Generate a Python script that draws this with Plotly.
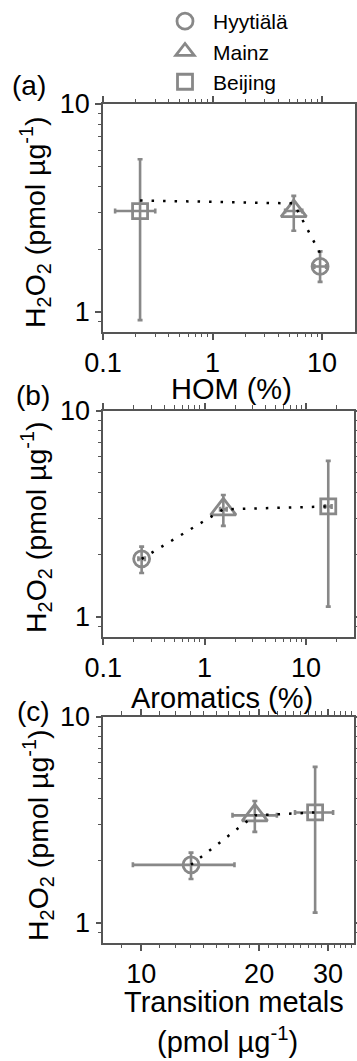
import math
import plotly.graph_objects as go

# ---------------- data ----------------
sites = ["Hyytiälä", "Mainz", "Beijing"]
symbols = ["circle-open", "triangle-up-open", "square-open"]
marker_sizes = [16, 22, 15]

# H2O2 content (pmol ug-1), shared by panels (b), (c) and the dotted lines
h2o2 = [1.91, 3.32, 3.43]
h2o2_lo = [1.63, 2.76, 1.12]
h2o2_hi = [2.19, 3.90, 5.71]

# panel (a) markers as drawn
h2o2_a = [1.65, 3.05, 3.05]
h2o2_a_lo = [1.39, 2.45, 0.91]
h2o2_a_hi = [1.95, 3.61, 5.42]

# (a) HOM (%)
hom = [9.6, 5.52, 0.218]
hom_lo = [8.5, 4.6, 0.129]
hom_hi = [10.9, 6.6, 0.30]

# (b) Aromatics (%)
aro = [0.239, 1.53, 16.6]
aro_lo = [0.222, 1.42, 15.4]
aro_hi = [0.257, 1.65, 17.9]

# (c) Transition metals (pmol ug-1)
tm = [13.4, 19.5, 27.8]
tm_lo = [9.52, 17.1, 24.7]
tm_hi = [17.3, 22.2, 30.9]

x_major_ab = [0.1, 1, 10]
x_major_ab_text = ["0.1", "1", "10"]
x_minor_a = [0.2, 0.3, 0.4, 0.5, 0.6, 0.7, 0.8, 0.9, 2, 3, 4, 5, 6, 7, 8, 9]
x_minor_b = x_minor_a + [20]
x_major_c = [10, 20, 30]
x_major_c_text = ["10", "20", "30"]
x_minor_c = [8.889, 11.11, 12.22, 13.33, 14.44, 15.56, 16.67, 17.78, 18.89,
             21.11, 22.22, 23.33, 24.44, 25.56, 26.67, 27.78, 28.89,
             31.11, 32.22, 33.33, 34.44]
y_major = [1, 10]
y_major_text = ["1", "10"]
y_minor = [0.9, 2, 3, 4, 5, 6, 7, 8, 9]

# ---------------- style ----------------
W, H = 357, 1061
FONT = "Liberation Sans, Arial, sans-serif"
GRAY = "#888888"
AXC = "#555555"


def fx(p):
    return p / W


def fy(p):
    return 1 - p / H


fig = go.Figure()

panels = [
    ("x", "y", hom, hom_lo, hom_hi, h2o2_a, h2o2_a_lo, h2o2_a_hi, hom, h2o2),
    ("x2", "y2", aro, aro_lo, aro_hi, h2o2, h2o2_lo, h2o2_hi, aro, h2o2),
    ("x3", "y3", tm, tm_lo, tm_hi, h2o2, h2o2_lo, h2o2_hi, tm, h2o2),
]

for pi, (xa, ya, xs, xlo, xhi, ys, ylo, yhi, lx, ly) in enumerate(panels):
    for i, s in enumerate(sites):
        fig.add_trace(go.Scatter(
            x=[xs[i]], y=[ys[i]], xaxis=xa, yaxis=ya,
            mode="markers", name=s, showlegend=(pi == 0),
            marker=dict(symbol=symbols[i], size=marker_sizes[i], color=GRAY,
                        line=dict(color=GRAY, width=2.8)),
            error_x=dict(type="data", symmetric=False,
                         array=[xhi[i] - xs[i]], arrayminus=[xs[i] - xlo[i]],
                         color=GRAY, thickness=2.6, width=2.5),
            error_y=dict(type="data", symmetric=False,
                         array=[yhi[i] - ys[i]], arrayminus=[ys[i] - ylo[i]],
                         color=GRAY, thickness=2.6, width=2.5),
        ))
    order = sorted(range(3), key=lambda k: lx[k])
    fig.add_trace(go.Scatter(
        x=[lx[k] for k in order], y=[ly[k] for k in order], xaxis=xa, yaxis=ya,
        mode="lines", showlegend=False, hoverinfo="skip",
        line=dict(color="black", width=2.5, dash="2.5px,9px"),
    ))


def axis_common(**kw):
    d = dict(type="log", showline=True, linecolor=AXC, linewidth=1.6,
             mirror="allticks", ticks="outside", ticklen=6, tickwidth=1.6,
             tickcolor=AXC, showgrid=False, zeroline=False, tickmode="array",
             automargin=False,
             tickfont=dict(family=FONT, size=27, color="black"))
    d.update(kw)
    return d


def minor(vals):
    return dict(ticks="outside", ticklen=3.5, tickwidth=1.4, tickcolor=AXC,
                tickmode="array", tickvals=vals, showgrid=False)


yr = [math.log10(0.8), 1]
layout = dict(
    width=W, height=H, margin=dict(l=0, r=0, t=0, b=0, autoexpand=False),
    paper_bgcolor="white", plot_bgcolor="white",
    font=dict(family=FONT, color="black"),
    showlegend=True,
    legend=dict(x=fx(157), y=fy(1), xanchor="left", yanchor="top",
                font=dict(family=FONT, size=21, color="black"),
                bgcolor="rgba(0,0,0,0)", tracegroupgap=0, itemsizing="trace",
                itemwidth=46),
    xaxis=axis_common(domain=[fx(103), fx(355)], anchor="y",
                      range=[-1, math.log10(20)], tickvals=x_major_ab,
                      ticktext=x_major_ab_text, minor=minor(x_minor_a)),
    yaxis=axis_common(domain=[fy(331.7), fy(104)], anchor="x", range=yr,
                      tickvals=y_major, ticktext=y_major_text, minor=minor(y_minor)),
    xaxis2=axis_common(domain=[fx(103.3), fx(354.3)], anchor="y2",
                       range=[-1, math.log10(30)], tickvals=x_major_ab,
                       ticktext=x_major_ab_text, minor=minor(x_minor_b)),
    yaxis2=axis_common(domain=[fy(636.7), fy(410.7)], anchor="x2", range=yr,
                       tickvals=y_major, ticktext=y_major_text, minor=minor(y_minor)),
    xaxis3=axis_common(domain=[fx(103.3), fx(354.3)], anchor="y3",
                       range=[math.log10(8), math.log10(35)], tickvals=x_major_c,
                       ticktext=x_major_c_text, minor=minor(x_minor_c)),
    yaxis3=axis_common(domain=[fy(942.7), fy(716.7)], anchor="x3", range=yr,
                       tickvals=y_major, ticktext=y_major_text, minor=minor(y_minor)),
)

ytitle = "H<sub>2</sub>O<sub>2</sub> (pmol µg<sup>-1</sup>)"
ann = []


def add_text(text, x, y, size=29, angle=0):
    ann.append(dict(text=text, x=fx(x), y=fy(y), xref="paper", yref="paper",
                    xanchor="center", yanchor="middle", showarrow=False,
                    textangle=angle, font=dict(family=FONT, size=size, color="black")))


add_text(ytitle, 35, 222, size=28.5, angle=-90)
add_text(ytitle, 36, 527, size=28.5, angle=-90)
add_text(ytitle, 38, 835, size=28.5, angle=-90)
add_text("HOM (%)", 231, 389)
add_text("Aromatics (%)", 222, 698)
add_text("Transition metals", 234, 1002)
add_text("(pmol µg<sup>-1</sup>)", 228, 1040)
add_text("(a)", 29, 85, size=28)
add_text("(b)", 33, 395, size=28)
add_text("(c)", 33, 711, size=28)
layout["annotations"] = ann

fig.update_layout(**layout)
fig.write_html("out.html")
